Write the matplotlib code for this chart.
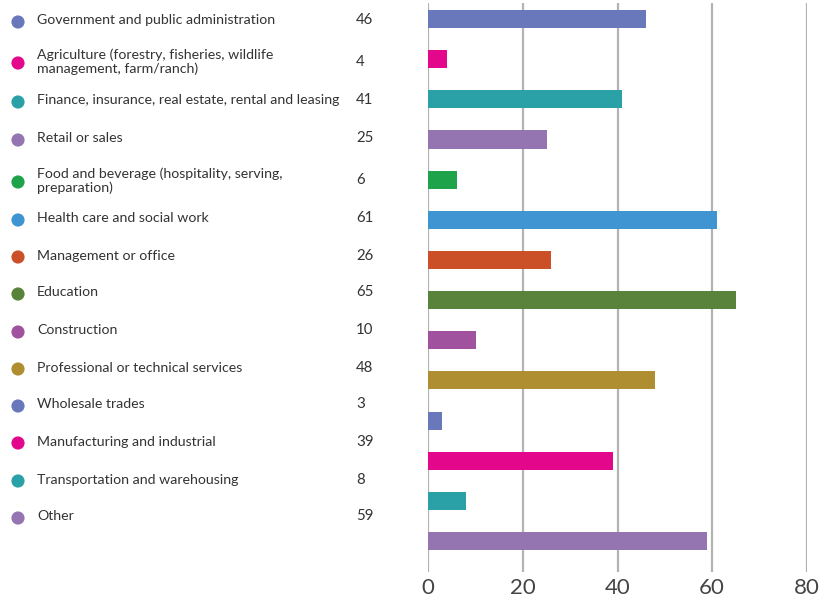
import matplotlib; matplotlib.use('Agg')
import matplotlib.pyplot as plt

plt.rcParams.update({'font.family': ['Lato', 'DejaVu Sans']})

categories = ['Government and public administration',
              'Agriculture (forestry, fisheries, wildlife\nmanagement, farm/ranch)',
              'Finance, insurance, real estate, rental and leasing',
              'Retail or sales',
              'Food and beverage (hospitality, serving,\npreparation)',
              'Health care and social work',
              'Management or office',
              'Education',
              'Construction',
              'Professional or technical services',
              'Wholesale trades',
              'Manufacturing and industrial',
              'Transportation and warehousing',
              'Other']
values = [46, 4, 41, 25, 6, 61, 26, 65, 10, 48, 3, 39, 8, 59]
colors = ['#6878bb', '#e2078b', '#2aa1a7', '#9575b1', '#1fa34a', '#3f95d2', '#cb5027',
          '#59833a', '#a0529e', '#ae8e30', '#6878bb', '#e2078b', '#2aa1a7', '#9575b1']
xticks = [0, 20, 40, 60, 80]

# vertical position (px) of each entry in the left-hand list
list_y = [20, 61, 100, 138, 180, 218, 255, 292, 330, 367, 404, 441, 479, 516]

W, H = 823, 598
fig = plt.figure(figsize=(W/100, H/100), dpi=100)
ax = fig.add_axes([428.3/W, 1-572/H, (806.7-428.3)/W, (572-3)/H])
ys = list(range(len(values)))
ax.barh(ys, values, height=0.45, color=colors, zorder=3)
ax.set_xlim(0, 80); ax.set_ylim(13.77, -0.4)
ax.set_xticks(xticks); ax.set_yticks([])
ax.grid(axis='x', color='#b3b3b3', lw=1.6, zorder=0)
for s in ax.spines.values(): s.set_visible(False)
ax.tick_params(axis='x', length=0, pad=4, labelsize=16, labelcolor='#444444')

# left-hand list drawn on a pixel-space overlay
ov = fig.add_axes([0, 0, 1, 1], zorder=-1)
ov.set_xlim(0, W); ov.set_ylim(H, 0); ov.axis('off')
ov.scatter([18]*len(list_y), [y+2 for y in list_y], s=90, c=colors, linewidths=0)
for y, lab, v in zip(list_y, categories, values):
    ov.text(37, y+0.5, lab, va='center', ha='left', fontsize=10.2, color='#333333', linespacing=1.15)
    ov.text(356, y+0.5, str(v), va='center', ha='left', fontsize=10.8, color='#333333')

fig.savefig('out.png', dpi=100)
